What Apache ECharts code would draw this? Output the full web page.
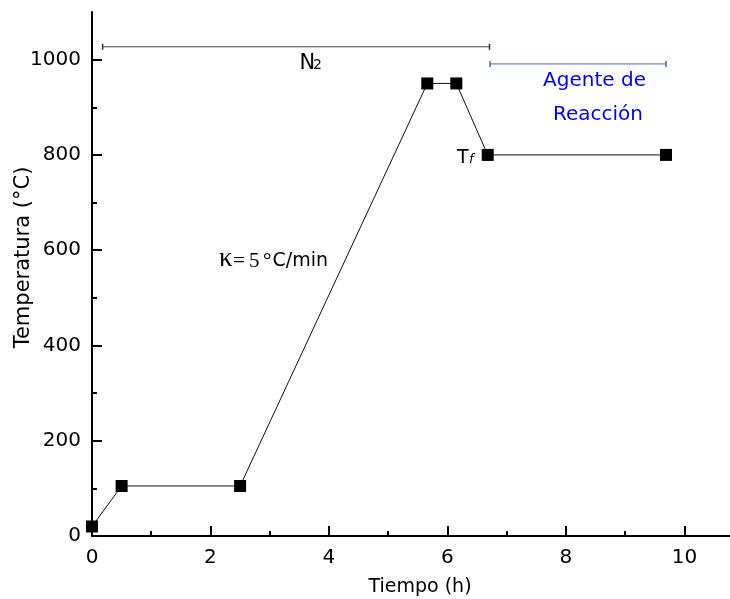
<!DOCTYPE html>
<html>
<head>
<meta charset="utf-8">
<script src="https://cdn.jsdelivr.net/npm/echarts@6/dist/echarts.min.js"></script>
<style>
html,body{margin:0;padding:0;background:#fff;}
#c{width:730px;height:599px;}
</style>
</head>
<body>
<div id="c"></div>
<script>
// ---- data ----
const timeH = [0, 0.5, 2.5, 5.66, 6.15, 6.68, 9.69];
const tempC = [20, 105, 105, 950, 950, 800, 800];
const xTicks = [0, 2, 4, 6, 8, 10];
const xMinor = [1, 3, 5, 7, 9];
const yTicks = [0, 200, 400, 600, 800, 1000];
const yMinor = [100, 300, 500, 700, 900];
const n2Span = [0.18, 6.71];
const n2Level = 1027;
const agenteSpan = [6.72, 9.69];
const agenteLevel = 991;

const FONT = '"DejaVu Sans", sans-serif';
const SERIF = '"Liberation Serif", "DejaVu Serif", serif';
const chart = echarts.init(document.getElementById('c'), null, {renderer: 'canvas'});

const xBase = {type: 'value', min: 0, max: 10.77, splitLine: {show: false}};
const yBase = {type: 'value', min: 0, max: 1100, splitLine: {show: false}};
const plain = v => String(v);

const option = {
  backgroundColor: '#ffffff',
  animation: false,
  grid: {left: 92, right: 0, top: 12, bottom: 63},
  xAxis: [
    Object.assign({}, xBase, {
      axisLine: {show: true, lineStyle: {color: '#000', width: 2}},
      axisTick: {show: true, inside: true, length: 10, lineStyle: {color: '#000', width: 2}, customValues: xTicks},
      axisLabel: {show: true, margin: 12, color: '#000', fontSize: 20, fontFamily: FONT, formatter: plain, customValues: xTicks}
    }),
    Object.assign({}, xBase, {
      position: 'bottom',
      axisLine: {show: false},
      axisTick: {show: true, inside: true, length: 5, lineStyle: {color: '#000', width: 2}, customValues: xMinor},
      axisLabel: {show: false}
    })
  ],
  yAxis: [
    Object.assign({}, yBase, {
      axisLine: {show: true, lineStyle: {color: '#000', width: 2}},
      axisTick: {show: true, inside: true, length: 10, lineStyle: {color: '#000', width: 2}, customValues: yTicks},
      axisLabel: {show: true, margin: 11, color: '#000', fontSize: 20, fontFamily: FONT, formatter: plain, customValues: yTicks}
    }),
    Object.assign({}, yBase, {
      position: 'left',
      offset: 0,
      axisLine: {show: false},
      axisTick: {show: true, inside: true, length: 5, lineStyle: {color: '#000', width: 2}, customValues: yMinor},
      axisLabel: {show: false}
    })
  ],
  series: [
    {
      type: 'line',
      xAxisIndex: 0, yAxisIndex: 0,
      data: timeH.map((t, i) => [t, tempC[i]]),
      symbol: 'rect',
      symbolSize: 12,
      showAllSymbol: true,
      clip: false,
      lineStyle: {color: '#111', width: 1},
      itemStyle: {color: '#000'},
      z: 5
    },
    {
      type: 'line',
      xAxisIndex: 0, yAxisIndex: 0,
      data: n2Span.map(t => [t, n2Level]),
      symbol: 'rect',
      symbolSize: [1.5, 6],
      lineStyle: {color: '#444', width: 1},
      itemStyle: {color: '#333'}
    },
    {
      type: 'line',
      xAxisIndex: 0, yAxisIndex: 0,
      data: agenteSpan.map(t => [t, agenteLevel]),
      symbol: 'rect',
      symbolSize: [1.5, 6],
      lineStyle: {color: '#3f63dd', width: 1},
      itemStyle: {color: '#3f63dd'}
    }
  ],
  graphic: [
    {type: 'text', x: 420, y: 597, style: {text: 'Tiempo (h)', font: '19px ' + FONT, fill: '#000', align: 'center', verticalAlign: 'bottom'}},
    {type: 'text', x: 23.5, y: 257.5, rotation: Math.PI / 2, style: {text: 'Temperatura (°C)', font: '21px ' + FONT, fill: '#000', align: 'center', verticalAlign: 'middle'}},
    {type: 'text', x: 299.5, y: 74.5, style: {text: 'N', font: '21px ' + FONT, fill: '#000', align: 'left', verticalAlign: 'bottom'}},
    {type: 'text', x: 313, y: 72.8, style: {text: '2', font: '14px ' + FONT, fill: '#000', align: 'left', verticalAlign: 'bottom'}},
    {type: 'text', x: 594.5, y: 91, style: {text: 'Agente de', font: '20px ' + FONT, fill: '#0000ff', align: 'center', verticalAlign: 'bottom'}},
    {type: 'text', x: 598, y: 125, style: {text: 'Reacción', font: '20px ' + FONT, fill: '#0000ff', align: 'center', verticalAlign: 'bottom'}},
    {type: 'text', x: 457, y: 167.3, style: {text: 'T', font: '19px ' + FONT, fill: '#000', align: 'left', verticalAlign: 'bottom'}},
    {type: 'text', x: 469, y: 166, style: {text: 'f', font: 'italic 13px ' + FONT, fill: '#000', align: 'left', verticalAlign: 'bottom'}},
    {type: 'text', x: 219, y: 272.5, style: {text: 'κ', font: '27px ' + SERIF, fill: '#000', align: 'left', verticalAlign: 'bottom'}},
    {type: 'text', x: 233, y: 271.5, style: {text: '=', font: '21px ' + SERIF, fill: '#000', align: 'left', verticalAlign: 'bottom'}},
    {type: 'text', x: 249, y: 271.5, style: {text: '5', font: '21px ' + SERIF, fill: '#000', align: 'left', verticalAlign: 'bottom'}},
    {type: 'text', x: 263, y: 271.5, style: {text: '°', font: '21px ' + SERIF, fill: '#000', align: 'left', verticalAlign: 'bottom'}},
    {type: 'text', x: 272.5, y: 270.8, style: {text: 'C/min', font: '19px ' + FONT, fill: '#000', align: 'left', verticalAlign: 'bottom'}}
  ]
};
chart.setOption(option);
</script>
</body>
</html>
